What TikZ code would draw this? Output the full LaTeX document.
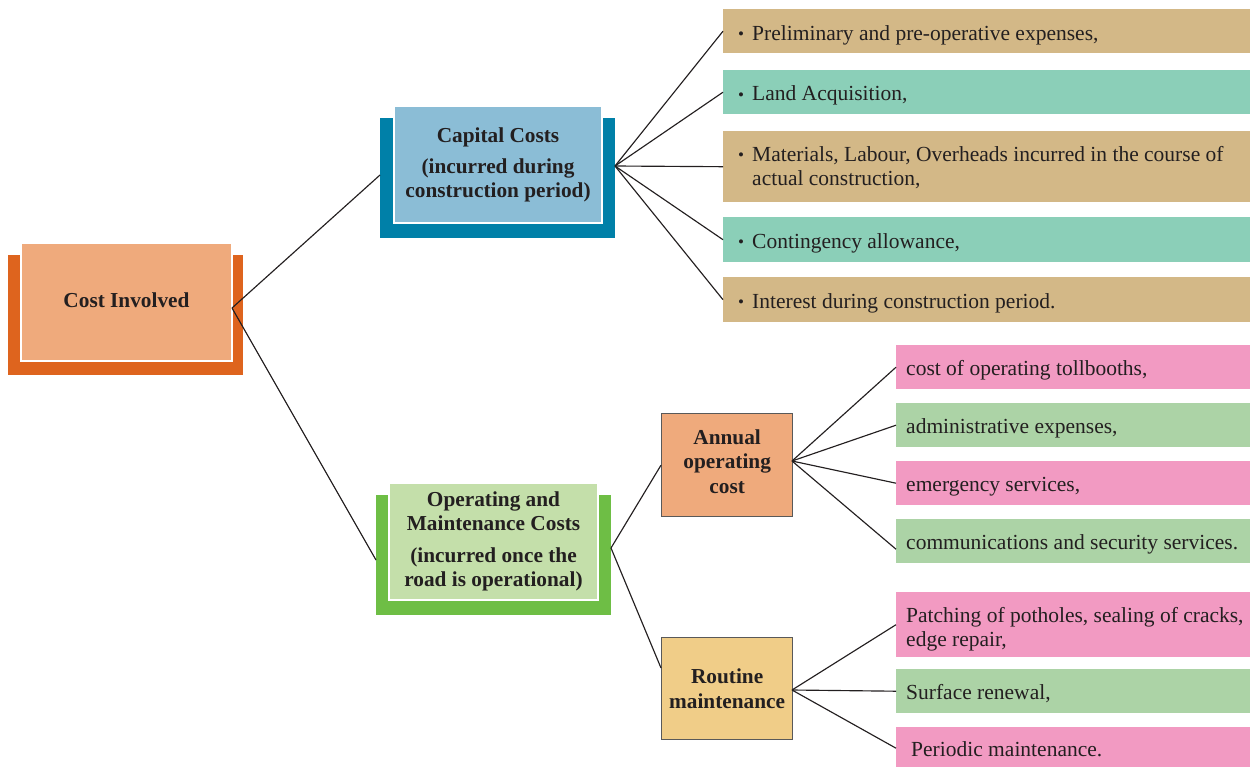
\documentclass[tikz,border=0pt]{standalone}
\usepackage{fontspec}
\setmainfont{Liberation Serif}
\definecolor{orback}{RGB}{222,100,30}
\definecolor{orlight}{RGB}{239,170,124}
\definecolor{tealback}{RGB}{0,128,168}
\definecolor{bluelight}{RGB}{139,189,214}
\definecolor{grback}{RGB}{110,190,69}
\definecolor{grfront}{RGB}{196,223,170}
\definecolor{tan}{RGB}{211,184,135}
\definecolor{seagreen}{RGB}{139,207,184}
\definecolor{pinkbox}{RGB}{242,154,194}
\definecolor{greenbox}{RGB}{172,211,166}
\definecolor{routinefill}{RGB}{240,205,136}
\definecolor{txt}{RGB}{35,31,32}
\newcommand{\bul}{\makebox[14pt][l]{\raisebox{0.3pt}{\fontsize{17}{17}\selectfont\textbullet}}}
\begin{document}
\begin{tikzpicture}[x=1pt,y=-1pt,
  conn/.style={draw=txt, line width=1.15pt},
  front/.style={draw=white, line width=2pt, anchor=north west, inner sep=0pt, align=center, text=txt,
    font=\fontsize{21.3}{24}\selectfont\bfseries},
  subbox/.style={draw=black!65, line width=1.3pt, anchor=north west, inner sep=0pt, align=center, text=txt,
    font=\fontsize{21.3}{24.5}\selectfont\bfseries},
  leafbox/.style={anchor=north west, inner sep=0pt, minimum width=#1},
  leaftext/.style={anchor=base west, inner sep=0pt, text=txt, font=\fontsize{21.5}{24}\selectfont}
]
\useasboundingbox (0,0) rectangle (1250,766);

% Cost Involved
\fill[orback] (8,255) rectangle (243,375);
\node[front, fill=orlight, minimum width=211, minimum height=118] (cost) at (20,242) {Cost Involved\\[-20pt]\mbox{}};
\coordinate (costR) at (232,308);

% Capital costs
\fill[tealback] (380,118) rectangle (615,238);
\node[front, fill=bluelight, minimum width=208, minimum height=117] (cap) at (393,105)
  {\rule{0pt}{8pt}Capital Costs\\[7pt](incurred during\\construction period)};
\coordinate (capL) at (380,175);
\coordinate (capR) at (615,166);

% O&M costs
\fill[grback] (376,495) rectangle (611,615);
\node[front, fill=grfront, minimum width=209, minimum height=117] (om) at (388,482)
  {\rule{0pt}{5pt}Operating and\\Maintenance Costs\\[8pt](incurred once the\\road is operational)};
\coordinate (omL) at (376,560);
\coordinate (omR) at (611,548);

% sub boxes
\node[subbox, fill=orlight, minimum width=131, minimum height=103] (ann) at (661,413)
  {Annual\\operating\\cost\\[-16.5pt]\mbox{}};
\node[subbox, fill=routinefill, minimum width=131, minimum height=102] (rout) at (661,637)
  {Routine\\maintenance};
\coordinate (annR) at (792,461);
\coordinate (routL) at (661,668);
\coordinate (routR) at (792,690);

% capital leaves
\node[leafbox=527, fill=tan, minimum height=44] (c1) at (723,9) {};
\node[leaftext] at ([xshift=15pt,yshift=-9pt]c1.west) {\bul Preliminary and pre-operative expenses,};
\node[leafbox=527, fill=seagreen, minimum height=44] (c2) at (723,70) {};
\node[leaftext] at ([xshift=15pt,yshift=-8.5pt]c2.west) {\bul Land Acquisition,};
\node[leafbox=527, fill=tan, minimum height=71] (c3) at (723,131) {};
\node[leaftext] at ([xshift=15pt,yshift=5.5pt]c3.west)
  {\begin{tabular}[t]{@{}l@{}l@{}}\bul & Materials, Labour, Overheads incurred in the course of\\ & actual construction,\end{tabular}};
\node[leafbox=527, fill=seagreen, minimum height=45] (c4) at (723,217) {};
\node[leaftext] at ([xshift=15pt,yshift=-8.5pt]c4.west) {\bul Contingency allowance,};
\node[leafbox=527, fill=tan, minimum height=45] (c5) at (723,277) {};
\node[leaftext] at ([xshift=15pt,yshift=-8.5pt]c5.west) {\bul Interest during construction period.};

% annual leaves
\node[leafbox=354, fill=pinkbox, minimum height=44] (a1) at (896,345) {};
\node[leaftext] at ([xshift=10pt,yshift=-8.3pt]a1.west) {cost of operating tollbooths,};
\node[leafbox=354, fill=greenbox, minimum height=44] (a2) at (896,403) {};
\node[leaftext] at ([xshift=10pt,yshift=-8.3pt]a2.west) {administrative expenses,};
\node[leafbox=354, fill=pinkbox, minimum height=44] (a3) at (896,461) {};
\node[leaftext] at ([xshift=10pt,yshift=-8.3pt]a3.west) {emergency services,};
\node[leafbox=354, fill=greenbox, minimum height=44] (a4) at (896,519) {};
\node[leaftext] at ([xshift=10pt,yshift=-8.3pt]a4.west) {communications and security services.};

% routine leaves
\node[leafbox=354, fill=pinkbox, minimum height=65] (r1) at (896,592) {};
\node[leaftext] at ([xshift=10pt,yshift=2.5pt]r1.west)
  {\begin{tabular}[t]{@{}l@{}}Patching of potholes, sealing of cracks,\\edge repair,\end{tabular}};
\node[leafbox=354, fill=greenbox, minimum height=44] (r2) at (896,669) {};
\node[leaftext] at ([xshift=10pt,yshift=-8.3pt]r2.west) {Surface renewal,};
\node[leafbox=354, fill=pinkbox, minimum height=42] (r3) at (896,727) {};
\node[leaftext] at ([xshift=15pt,yshift=-8.3pt]r3.west) {Periodic maintenance.};

% connectors
\draw[conn] (costR) -- (capL);
\draw[conn] (costR) -- (omL);
\foreach \n in {c1,c2,c3,c4,c5} \draw[conn] (capR) -- (\n.west);
\draw[conn] (omR) -- (ann.west);
\draw[conn] (omR) -- (routL);
\foreach \n in {a1,a2,a3} \draw[conn] (annR) -- (\n.west);
\draw[conn] (annR) -- ([yshift=-8pt]a4.west);
\foreach \n in {r1,r2,r3} \draw[conn] (routR) -- (\n.west);
\end{tikzpicture}
\end{document}
